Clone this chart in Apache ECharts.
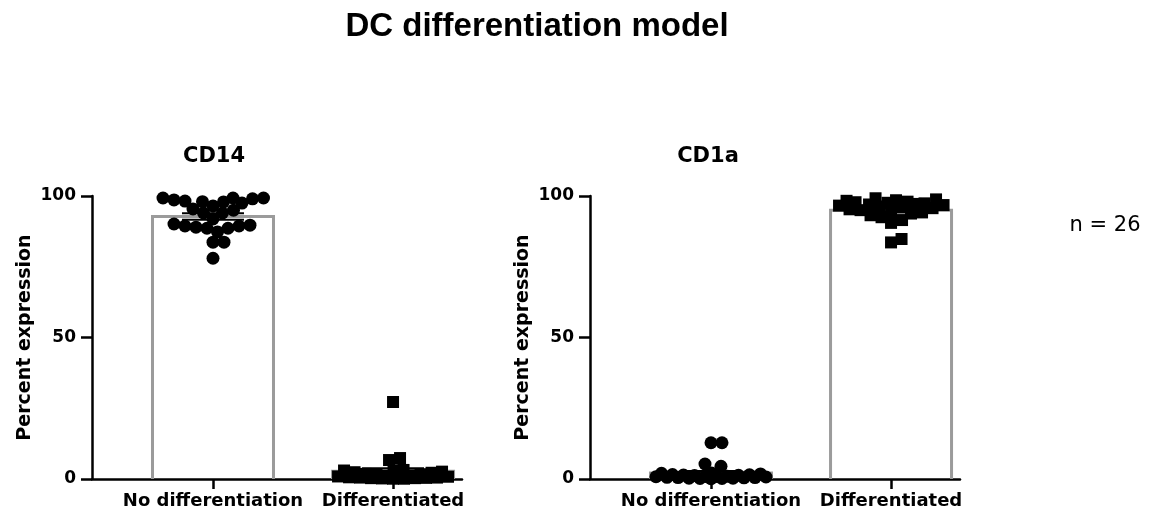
<!DOCTYPE html>
<html>
<head>
<meta charset="utf-8">
<script src="https://cdn.jsdelivr.net/npm/echarts@6/dist/echarts.min.js"></script>
<style>
  html, body { margin: 0; padding: 0; background: #fff; }
  #chart { width: 1150px; height: 513px; }
</style>
</head>
<body>
<div id="chart"></div>
<script>
// data (percent expression, n = 26 donors)
const categories = ['No differentiation', 'Differentiated'];
const panelTitles = ['CD14', 'CD1a'];
const yTicks = [0, 50, 100];

const cd14NoDiff = [99.3, 99.3, 99.3, 99.0, 98.6, 98.2, 98.0, 97.9, 97.5, 96.5, 95.4, 95.0, 94.0, 94.0,
  91.9, 90.1, 89.7, 89.4, 89.4, 89.0, 88.6, 88.6, 87.3, 83.7, 83.7, 78.0];
const cd14Diff = [27.2, 7.4, 6.7, 3.2, 3.1, 3.0, 2.6, 2.4, 2.2, 1.8, 1.7, 1.5, 1.3, 1.2, 1.0, 0.9,
  0.8, 0.6, 0.5, 0.5, 0.4, 0.3, 0.3, 0.2, 0.1, 0.1];
const cd1aNoDiff = [12.8, 12.8, 5.3, 4.5, 2.1, 2.0, 1.8, 1.6, 1.5, 1.4, 1.3, 1.2, 1.0, 0.9, 0.9,
  0.8, 0.7, 0.6, 0.5, 0.5, 0.4, 0.3, 0.3, 0.2, 0.2, 0.1];
const cd1aDiff = [99.2, 98.8, 98.5, 98.3, 98.0, 97.8, 97.6, 97.4, 97.2, 97.0, 96.8, 96.6, 96.3,
  96.0, 95.7, 95.3, 95.0, 94.6, 94.2, 93.8, 93.2, 92.5, 91.5, 90.5, 84.8, 83.6];

const groups = [
  [cd14NoDiff, cd14Diff],
  [cd1aNoDiff, cd1aDiff]
];

// layout
const GRID_LEFT = [92, 590];
const GRID_TOP = 196;
const GRID_W = 370;
const GRID_H = 283;
const X_MIN = 0.328;
const X_MAX = 2.383;
const BAR_W = 121;
const CAP_W = 62;
const SYMBOLS = ['circle', 'rect'];
const SYMBOL_SIZE = [13, 12];
const SWARM_GAP = 11;     // min centre distance between points, px
const SWARM_HALF = 55;    // max half width of a swarm, px
const BOLD = 'DejaVu Sans';

function mean(a) {
  return a.reduce((s, v) => s + v, 0) / a.length;
}
function sem(a) {
  const m = mean(a);
  const sd = Math.sqrt(a.reduce((s, v) => s + (v - m) * (v - m), 0) / (a.length - 1));
  return sd / Math.sqrt(a.length);
}

function renderBar(params, api) {
  const x = api.value(0);
  const m = api.value(1);
  const s = api.value(2);
  const top = api.coord([x, m]);
  const base = api.coord([x, 0]);
  const hi = api.coord([x, m + s]);
  const lo = api.coord([x, Math.max(m - s, 0)]);
  const hw = BAR_W / 2;
  const cw = CAP_W / 2;
  const black = { stroke: '#000', lineWidth: 2 };
  return {
    type: 'group',
    children: [
      {
        type: 'polyline',
        shape: { points: [[top[0] - hw, base[1]], [top[0] - hw, top[1]], [top[0] + hw, top[1]], [top[0] + hw, base[1]]] },
        style: { stroke: '#9b9b9b', lineWidth: 3, fill: 'none' }
      },
      { type: 'line', shape: { x1: top[0], y1: hi[1], x2: top[0], y2: lo[1] }, style: black },
      { type: 'line', shape: { x1: top[0] - cw, y1: hi[1], x2: top[0] + cw, y2: hi[1] }, style: black },
      { type: 'line', shape: { x1: top[0] - cw, y1: lo[1], x2: top[0] + cw, y2: lo[1] }, style: black }
    ]
  };
}

function buildOption(jitter) {
  const grid = [], xAxis = [], yAxis = [], series = [];
  for (let g = 0; g < 2; g++) {
    grid.push({ left: GRID_LEFT[g], top: GRID_TOP, width: GRID_W, height: GRID_H });
    xAxis.push({
      gridIndex: g,
      type: 'value',
      min: X_MIN,
      max: X_MAX,
      axisLine: { onZero: false, lineStyle: { color: '#000', width: 2.5 } },
      splitLine: { show: false },
      axisTick: { customValues: [1, 2], length: 10, lineStyle: { color: '#000', width: 2.5 } },
      axisLabel: {
        customValues: [1, 2],
        formatter: v => categories[Math.round(v) - 1],
        margin: 13,
        color: '#000',
        fontFamily: BOLD,
        fontWeight: 'bold',
        fontSize: 18
      }
    });
    yAxis.push({
      gridIndex: g,
      type: 'value',
      min: yTicks[0],
      max: yTicks[yTicks.length - 1],
      interval: 50,
      name: 'Percent expression',
      nameLocation: 'middle',
      nameGap: 57,
      nameTextStyle: { color: '#000', fontFamily: BOLD, fontWeight: 'bold', fontSize: 19 },
      axisLine: { show: true, onZero: false, lineStyle: { color: '#000', width: 2.5 } },
      splitLine: { show: false },
      axisTick: { show: true, length: 11, lineStyle: { color: '#000', width: 2.5 } },
      axisLabel: { margin: 16, color: '#000', fontFamily: BOLD, fontWeight: 'bold', fontSize: 17 }
    });
    series.push({
      type: 'custom',
      xAxisIndex: g,
      yAxisIndex: g,
      z: 2,
      renderItem: renderBar,
      encode: { x: 0, y: 1 },
      data: groups[g].map((vals, c) => [c + 1, mean(vals), sem(vals)])
    });
    for (let c = 0; c < 2; c++) {
      const vals = groups[g][c];
      series.push({
        type: 'scatter',
        xAxisIndex: g,
        yAxisIndex: g,
        z: 4,
        clip: false,
        symbol: SYMBOLS[c],
        symbolSize: SYMBOL_SIZE[c],
        itemStyle: { color: '#000', opacity: 1 },
        data: vals.map((v, i) => [jitter ? jitter[g][c][i] : c + 1, v])
      });
    }
  }
  return {
    animation: false,
    backgroundColor: '#fff',
    grid, xAxis, yAxis, series,
    graphic: [
      { type: 'text', x: 537, y: 27, style: { text: 'DC differentiation model', font: 'bold 33px "Liberation Sans"', fill: '#000', textAlign: 'center', textVerticalAlign: 'middle' } },
      { type: 'text', x: 214, y: 157, style: { text: panelTitles[0], font: 'bold 21px "DejaVu Sans"', fill: '#000', textAlign: 'center', textVerticalAlign: 'middle' } },
      { type: 'text', x: 708, y: 157, style: { text: panelTitles[1], font: 'bold 21px "DejaVu Sans"', fill: '#000', textAlign: 'center', textVerticalAlign: 'middle' } },
      { type: 'text', x: 1105, y: 226, style: { text: 'n = 26', font: '21px "DejaVu Sans"', fill: '#000', textAlign: 'center', textVerticalAlign: 'middle' } }
    ]
  };
}

// beeswarm in pixel space: lowest values first, nearest free slot to the centre,
// kept within a max half width; when full, take the least crowded slot
function swarm(pys, d, half) {
  const order = pys.map((y, i) => i).sort((a, b) => pys[b] - pys[a]);
  const placed = [];
  const xs = [];
  for (const i of order) {
    const y = pys[i];
    let found = null;
    let bestC = 0, bestD = -1;
    for (let step = 0; step <= half * 2 && found === null; step++) {
      const cands = step === 0 ? [0] : [step * 0.5, -step * 0.5];
      for (const c of cands) {
        let md = Infinity;
        for (const p of placed) {
          md = Math.min(md, Math.hypot(p.x - c, p.y - y));
        }
        if (md >= d) { found = c; break; }
        if (md > bestD + 0.01) { bestD = md; bestC = c; }
      }
    }
    if (found === null) found = bestC;
    xs[i] = found;
    placed.push({ x: found, y });
  }
  return xs;
}

const chart = echarts.init(document.getElementById('chart'));
chart.setOption(buildOption(null));

const jitter = groups.map((pair, g) => pair.map((vals, c) => {
  const cx = chart.convertToPixel({ gridIndex: g }, [c + 1, 0])[0];
  const pys = vals.map(v => chart.convertToPixel({ gridIndex: g }, [c + 1, v])[1]);
  const offs = swarm(pys, SWARM_GAP, SWARM_HALF);
  return offs.map((o, i) => chart.convertFromPixel({ gridIndex: g }, [cx + o, pys[i]])[0]);
}));
chart.setOption(buildOption(jitter), true);
</script>
</body>
</html>
